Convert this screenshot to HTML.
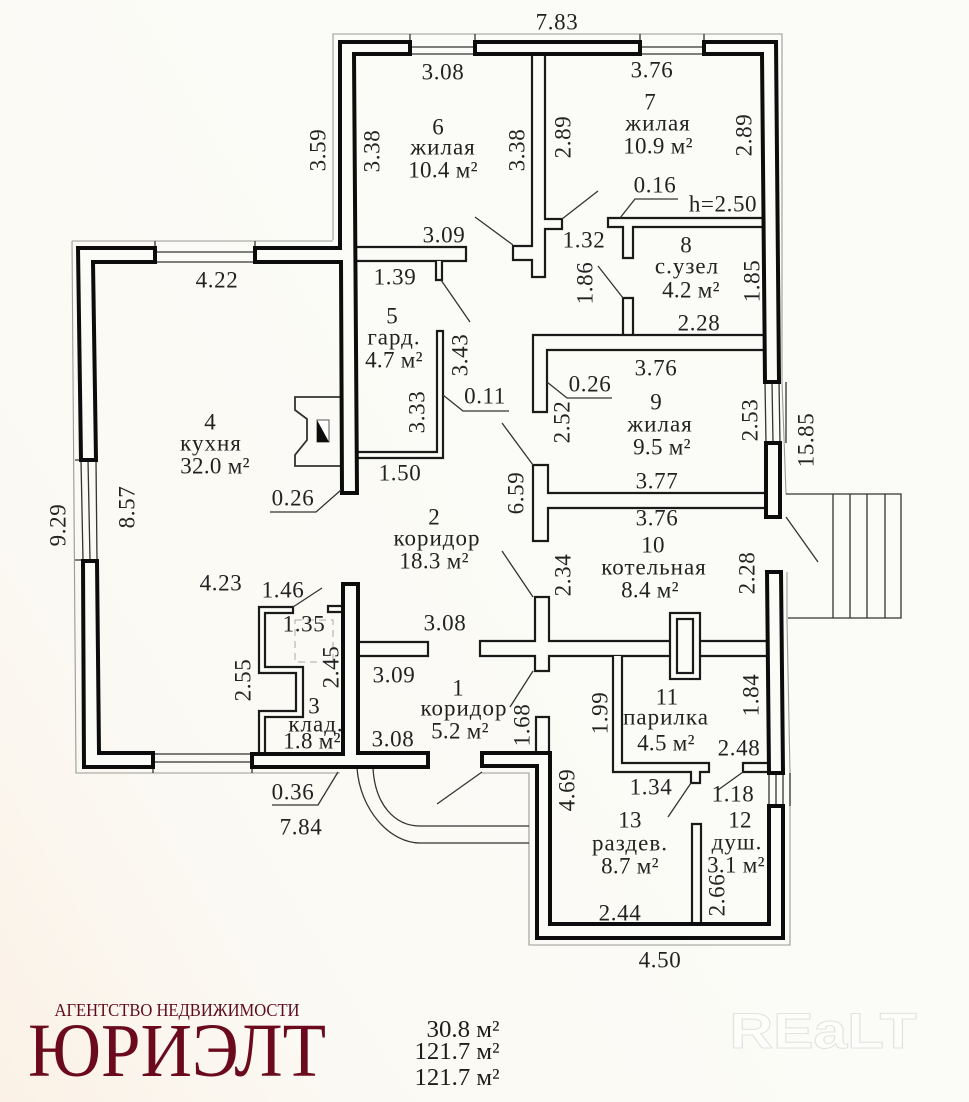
<!DOCTYPE html>
<html><head><meta charset="utf-8"><style>
html,body{margin:0;padding:0;width:969px;height:1102px;overflow:hidden}
svg{display:block}
text{font-family:"Liberation Serif","Noto Serif CJK SC",serif;fill:#222;dominant-baseline:central;text-anchor:middle;font-size:23px}
.d{letter-spacing:.6px}
.l{letter-spacing:1px}
.a{letter-spacing:.3px}
.w{fill:#fbfbf7;stroke:#0c0c0c;stroke-width:4;stroke-linejoin:miter}
.t{fill:#fbfbf7;stroke:#1a1a1a;stroke-width:2.2}
.n{fill:none;stroke:#333;stroke-width:1.3}
.g{fill:none;stroke:#9a9a97;stroke-width:1.1}
</style></head><body>
<svg width="969" height="1102" viewBox="0 0 969 1102" xmlns="http://www.w3.org/2000/svg">
<defs><linearGradient id="bg" x1="0" y1="1" x2=".6" y2=".6"><stop offset="0" stop-color="#fbf1e6"/><stop offset=".4" stop-color="#fbf9f3"/><stop offset="1" stop-color="#fbfbf7"/></linearGradient></defs>
<rect width="969" height="1102" fill="url(#bg)"/>

<!-- outer thin dimension lines -->
<path class="g" d="M333,240 V34 H782 V382 L786,494 M787,572 V620 L790,773 M72,241 H333 M72,241 L76,773 H340 M482,773 H529 V945 H790 V773"/>

<!-- windows -->
<path class="n" d="M410,34 V54 M475,34 V54 M410,47 H475 M410,54 H475 M640,34 V54 M704,34 V54 M640,47 H704 M640,54 H704"/>
<path class="n" d="M155,241 V262 M255,241 V262 M155,252 H255 M155,262 H255"/>
<path class="n" d="M75,460 H96 M75,560 H97 M81,460 L83,560 M88,460 L90,560 M96,460 L97,560"/>
<path class="n" d="M153,754 H252 M153,762 H252 M153,767 V773 M252,767 V773"/>
<path class="n" d="M765,382 L766,443 M772,382 L773,443 M779,382 L780,443 M786,382 V443"/>
<path class="n" d="M769,773 V806 M776,773 V806 M783,773 V806 M790,773 V806"/>

<!-- stairs -->
<path class="n" d="M786,494 H901 V618 H788 M833,494 V618 M850,494 V618 M867,494 V618 M885,494 V618"/>

<!-- porch -->
<path class="n" d="M357,768 C360,810 390,843 420,843 H529 M373,768 C375,805 395,826 420,826 H529"/>

<!-- interior thin walls -->
<path class="t" d="M532,54 V246 H513 V260 H532 V277 H545 V229 H562 V219 H545 V54"/>
<path class="t" d="M356,247 H466 V261 H356"/>
<path class="t" d="M436,261 V280 H442 V261"/>
<path class="t" d="M763,218 H608 V227 H623 V258 H633 V227 H763"/>
<path class="t" d="M623,335 V298 H633 V335"/>
<path class="t" d="M764,335 H533 V412 H547 V350 H764"/>
<path class="t" d="M766,493 H548 V465 H533 V541 H548 V508 H766"/>
<path class="t" d="M767,641 H549 V597 H535 V641 H480 V656 H535 V671 H549 V656 H767"/>
<rect class="t" x="670" y="613" width="30" height="66"/>
<rect class="t" x="677" y="619" width="16" height="54"/>
<path class="t" d="M613,656 V772 H691 V783 H700 V772 H709 V763 H622 V656"/>
<path class="t" d="M769,763 H743 V772 H769"/>
<path class="t" d="M692,924 V824 H701 V924"/>
<path class="t" d="M358,642 H428 V656 H358"/>
<path class="t" d="M536,753 V717 H549 V753"/>
<path class="t" d="M437,331 V452 H357 V458 H443 V331 Z"/>
<path class="t" d="M259,754 V711 H296 V673 H259 V607 H293 V613 H265 V667 H303 V717 H265 V754"/>
<path class="t" d="M343,606 H328 V612 H343"/>
<rect x="295" y="620" width="38" height="42" fill="none" stroke="#aaa" stroke-width="1" stroke-dasharray="7 5"/>

<!-- fireplace -->
<path class="n" style="stroke-width:1.8" d="M341,397 H295 V410 L307,419 V440 L295,455 V466 H341"/>
<rect x="317" y="420" width="12" height="22" fill="#fff" stroke="#555" stroke-width="1"/>
<path d="M317,420 L329,442 H317 Z" fill="#0c0c0c"/>

<!-- thick walls -->
<path class="w" d="M155,248 H78 L81,460 H96 L93,262 H155 Z"/>
<path class="w" d="M83,561 L84,767 H153 V753 H99 L97,561 Z"/>
<path class="w" d="M255,248 H340 V42 H410 V54 H354 L357,493 H342 L341,262 H255 Z"/>
<rect class="w" x="475" y="42" width="165" height="12"/>
<path class="w" d="M704,42 H776 L779,382 H765 L762,54 H704 Z"/>
<rect class="w" x="766" y="443" width="14" height="74"/>
<path class="w" d="M767,572 H781 L783,773 H769 Z"/>
<path class="w" d="M769,806 H783 V938 H537 V766 H482 V753 H550 V924 H769 Z"/>
<path class="w" d="M252,754 H343 V584 H358 V753 H428 V767 H252 Z"/>

<!-- leaders -->
<path class="n" d="M475,217 L513,245 M562,219 L598,191 M620,218 L635,199 H678 M441,280 L470,322 M598,266 L623,298 M547,382 L567,398 H612 M443,395 L463,411 H509 M502,423 L533,465 M341,490 L316,512 H270 M293,607 L322,588 M338,772 L318,805 H272 M502,551 L533,597 M533,671 L510,707 M786,517 L818,562 M482,772 L437,804 M691,783 L668,817 M743,772 L718,790"/>

<!-- labels -->
<text class="d" x="557" y="22">7.83</text>
<text class="d" x="443" y="72">3.08</text>
<text class="d" x="652" y="70">3.76</text>
<text class="d" transform="translate(318,150) rotate(-90)">3.59</text>
<text class="d" transform="translate(372,151) rotate(-90)">3.38</text>
<text x="438" y="127">6</text>
<text class="l" x="443" y="147">жилая</text>
<text class="a" x="443" y="170">10.4 м²</text>
<text class="d" transform="translate(517,150) rotate(-90)">3.38</text>
<text class="d" transform="translate(563,137) rotate(-90)">2.89</text>
<text x="650" y="102">7</text>
<text class="l" x="658" y="123">жилая</text>
<text class="a" x="658" y="146">10.9 м²</text>
<text class="d" transform="translate(744,135) rotate(-90)">2.89</text>
<text class="d" x="655" y="185">0.16</text>
<text class="d" x="723" y="204">h=2.50</text>
<text class="d" x="584" y="240">1.32</text>
<text class="d" x="444" y="235">3.09</text>
<text x="686" y="245">8</text>
<text class="l" x="687" y="266">с.узел</text>
<text class="a" x="691" y="290">4.2 м²</text>
<text class="d" transform="translate(752,281) rotate(-90)">1.85</text>
<text class="d" transform="translate(585,283) rotate(-90)">1.86</text>
<text class="d" x="699" y="323">2.28</text>
<text class="d" x="395" y="277">1.39</text>
<text x="392" y="316">5</text>
<text class="l" x="394" y="337">гард.</text>
<text class="a" x="394" y="360">4.7 м²</text>
<text class="d" transform="translate(460,355) rotate(-90)">3.43</text>
<text class="d" x="656" y="368">3.76</text>
<text class="d" x="590" y="384">0.26</text>
<text class="d" transform="translate(562,422) rotate(-90)">2.52</text>
<text x="656" y="402">9</text>
<text class="l" x="660" y="424">жилая</text>
<text class="a" x="662" y="447">9.5 м²</text>
<text class="d" transform="translate(750,420) rotate(-90)">2.53</text>
<text class="d" transform="translate(806,440) rotate(-90)">15.85</text>
<text class="d" transform="translate(417,412) rotate(-90)">3.33</text>
<text class="d" x="485" y="396">0.11</text>
<text class="d" x="400" y="473">1.50</text>
<text class="d" x="293" y="498">0.26</text>
<text class="d" x="217" y="280">4.22</text>
<text x="210" y="422">4</text>
<text class="l" x="211" y="443">кухня</text>
<text class="a" x="215" y="466">32.0 м²</text>
<text class="d" transform="translate(58,525) rotate(-90)">9.29</text>
<text class="d" transform="translate(127,507) rotate(-90)">8.57</text>
<text class="d" transform="translate(516,493) rotate(-90)">6.59</text>
<text class="d" x="657" y="481">3.77</text>
<text class="d" x="657" y="518">3.76</text>
<text x="434" y="517">2</text>
<text class="l" x="437" y="538">коридор</text>
<text class="a" x="434" y="561">18.3 м²</text>
<text class="a" x="653" y="545">10</text>
<text class="l" x="654" y="567">котельная</text>
<text class="a" x="650" y="590">8.4 м²</text>
<text class="d" transform="translate(563,575) rotate(-90)">2.34</text>
<text class="d" transform="translate(747,573) rotate(-90)">2.28</text>
<text class="d" x="221" y="583">4.23</text>
<text class="d" x="283" y="590">1.46</text>
<text class="d" x="304" y="624">1.35</text>
<text class="d" x="445" y="623">3.08</text>
<text class="d" transform="translate(243,680) rotate(-90)">2.55</text>
<text class="d" transform="translate(331,667) rotate(-90)">2.45</text>
<text class="d" x="394" y="675">3.09</text>
<text x="314" y="706">3</text>
<text class="l" x="316" y="724">клад.</text>
<text class="a" x="312" y="741">1.8 м²</text>
<text x="458" y="688">1</text>
<text class="l" x="464" y="708">коридор</text>
<text class="a" x="460" y="731">5.2 м²</text>
<text class="d" x="393" y="739">3.08</text>
<text class="d" transform="translate(522,725) rotate(-90)">1.68</text>
<text class="d" transform="translate(600,713) rotate(-90)">1.99</text>
<text class="d" transform="translate(751,695) rotate(-90)">1.84</text>
<text class="a" x="667" y="697">11</text>
<text class="l" x="666" y="717">парилка</text>
<text class="a" x="666" y="743">4.5 м²</text>
<text class="d" x="739" y="748">2.48</text>
<text class="d" x="651" y="787">1.34</text>
<text class="d" x="733" y="794">1.18</text>
<text class="d" transform="translate(567,790) rotate(-90)">4.69</text>
<text class="a" x="630" y="820">13</text>
<text class="l" x="630" y="843">раздев.</text>
<text class="a" x="630" y="866">8.7 м²</text>
<text class="a" x="740" y="820">12</text>
<text class="l" x="737" y="842">душ.</text>
<text class="a" x="736" y="865">3.1 м²</text>
<text class="d" transform="translate(717,895) rotate(-90)">2.66</text>
<text class="d" x="620" y="913">2.44</text>
<text class="d" x="293" y="792">0.36</text>
<text class="d" x="301" y="827">7.84</text>
<text class="d" x="660" y="960">4.50</text>

<!-- bottom -->
<text x="177" y="1010" style="fill:#5d0a1a;font-size:18px" textLength="245" lengthAdjust="spacingAndGlyphs">АГЕНТСТВО НЕДВИЖИМОСТИ</text>
<text x="177" y="1051" style="fill:#6a0a1c;font-size:76px" textLength="298" lengthAdjust="spacingAndGlyphs">ЮРИЭЛТ</text>
<text x="463" y="1030" style="font-size:24px;fill:#1d1d1d" textLength="73" lengthAdjust="spacingAndGlyphs">30.8 м²</text>
<text x="457" y="1052" style="font-size:24px;fill:#1d1d1d" textLength="85" lengthAdjust="spacingAndGlyphs">121.7 м²</text>
<text x="457" y="1078" style="font-size:24px;fill:#1d1d1d" textLength="85" lengthAdjust="spacingAndGlyphs">121.7 м²</text>
<text x="823" y="1031" style="font-family:'Liberation Sans',sans-serif;font-weight:bold;font-size:50px;fill:#fdfdfc;stroke:#e2e2df;stroke-width:1" textLength="187" lengthAdjust="spacingAndGlyphs">REaLT</text>
</svg>
</body></html>
